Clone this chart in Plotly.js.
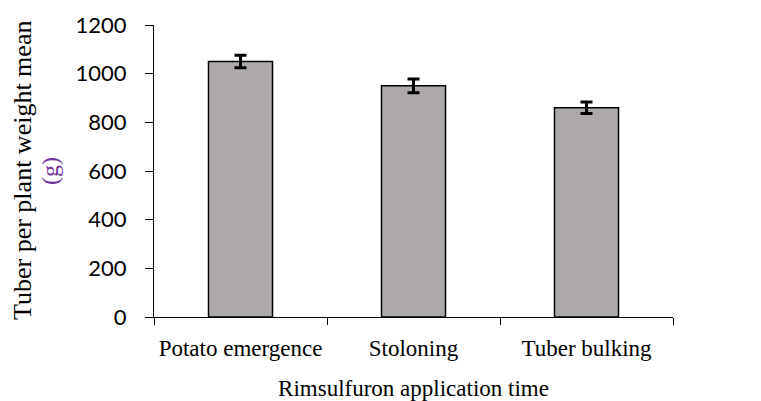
<!DOCTYPE html>
<html>
<head>
<meta charset="utf-8">
<script src="https://cdn.plot.ly/plotly-3.0.1.min.js"></script>
<style>html,body{margin:0;padding:0;background:#fff;}#chart{width:761px;height:401px;}</style>
</head>
<body>
<div id="chart"></div>
<script>
const categories = ["Potato emergence", "Stoloning", "Tuber bulking"];
const meanWeight = [1050, 950, 860];
const errorValues = [26, 28, 24];
const yTickValues = [0, 200, 400, 600, 800, 1000, 1200];

const trace = {
  type: "bar",
  x: categories,
  y: meanWeight,
  width: 0.37,
  marker: {color: "#AEAAAA", line: {color: "#000000", width: 1.5}},
  error_y: {type: "data", array: errorValues, visible: true, color: "#000000", thickness: 3, width: 6},
  hoverinfo: "x+y"
};

const layout = {
  width: 761,
  height: 401,
  margin: {l: 154, r: 88, t: 24.5, b: 84},
  paper_bgcolor: "#ffffff",
  plot_bgcolor: "#ffffff",
  showlegend: false,
  xaxis: {
    type: "category",
    tickson: "boundaries",
    ticks: "outside",
    ticklen: 7,
    tickcolor: "#000",
    tickwidth: 1,
    showline: true,
    linecolor: "#000",
    linewidth: 1,
    showgrid: false,
    zeroline: false,
    tickfont: {family: "Liberation Serif, Times New Roman, serif", size: 23, color: "#000"},
    ticklabelstandoff: 10,
    title: {text: "Rimsulfuron application time", font: {family: "Liberation Serif, Times New Roman, serif", size: 23, color: "#000"}, standoff: 20}
  },
  yaxis: {
    range: [0, 1200],
    tickvals: yTickValues,
    ticktext: yTickValues.map(String),
    ticks: "outside",
    ticklen: 8,
    tickcolor: "#000",
    tickwidth: 1,
    showline: true,
    linecolor: "#000",
    linewidth: 1,
    showgrid: false,
    zeroline: false,
    tickfont: {family: "Lato, Noto Sans, sans-serif", size: 22, color: "#000"},
    ticklabelstandoff: 14
  },
  annotations: [
    {text: "Tuber per plant weight mean", xref: "paper", yref: "paper", x: (22 - 154) / 519, y: 0.5, xanchor: "center", yanchor: "middle", textangle: -90, showarrow: false,
     font: {family: "Liberation Serif, Times New Roman, serif", size: 26, color: "#000"}},
    {text: "(g)", xref: "paper", yref: "paper", x: (50 - 154) / 519, y: 0.5, xanchor: "center", yanchor: "middle", textangle: -90, showarrow: false,
     font: {family: "Liberation Serif, Times New Roman, serif", size: 24, color: "#7030A0"}}
  ]
};

Plotly.newPlot("chart", [trace], layout, {displayModeBar: false, staticPlot: true});
</script>
</body>
</html>
